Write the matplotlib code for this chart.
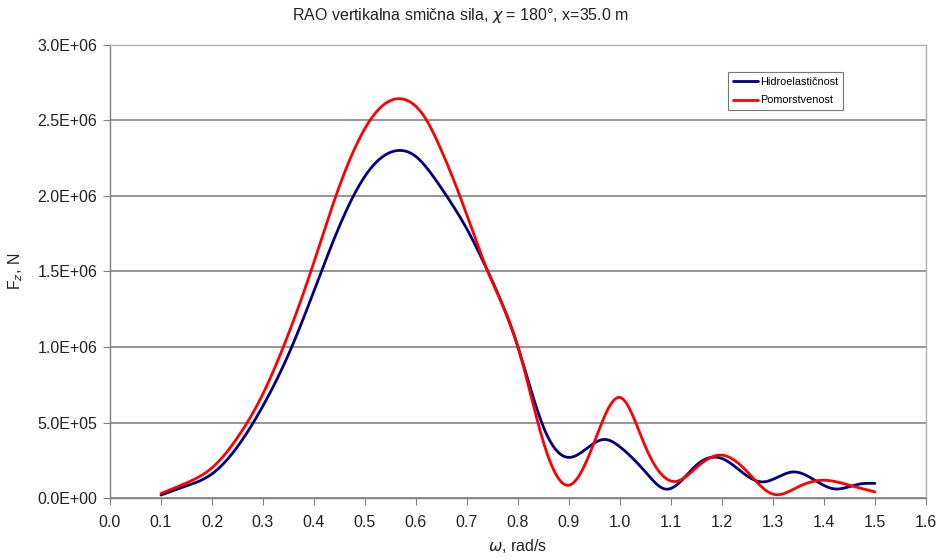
import numpy as np
import matplotlib
matplotlib.use("Agg")
import matplotlib.pyplot as plt
from matplotlib.ticker import FuncFormatter, MultipleLocator

plt.rcParams['font.family'] = ['Liberation Sans', 'DejaVu Sans']

# Hidroelasticnost (blue)
x_blue = [0.10, 0.15, 0.20, 0.25, 0.30, 0.35, 0.40, 0.45, 0.50, 0.565, 0.60, 0.627, 0.66,
          0.70, 0.741, 0.80, 0.85, 0.90, 0.97, 1.00, 1.05, 1.09, 1.15, 1.20, 1.25, 1.28,
          1.34, 1.42, 1.47, 1.50]
y_blue = [2.0e4, 8.0e4, 1.6e5, 3.4e5, 6.1e5, 9.5e5, 1.37e6, 1.80e6, 2.13e6, 2.30e6, 2.26e6,
          2.16e6, 2.00e6, 1.78e6, 1.50e6, 1.00e6, 4.7e5, 2.69e5, 3.88e5, 3.39e5, 1.73e5,
          5.9e4, 2.18e5, 2.62e5, 1.45e5, 1.07e5, 1.73e5, 6.1e4, 9.3e4, 9.7e4]

# Pomorstvenost (red)
x_red = [0.10, 0.15, 0.20, 0.25, 0.30, 0.34, 0.394, 0.44, 0.51, 0.575, 0.621, 0.65, 0.686,
         0.741, 0.80, 0.85, 0.90, 0.95, 1.00, 1.05, 1.11, 1.15, 1.20, 1.25, 1.30, 1.35,
         1.40, 1.45, 1.50]
y_red = [3.0e4, 1.0e5, 2.0e5, 4.0e5, 6.9e5, 1.0e6, 1.5e6, 1.97e6, 2.50e6, 2.64e6, 2.50e6,
         2.30e6, 2.00e6, 1.50e6, 1.00e6, 3.7e5, 8.5e4, 3.72e5, 6.66e5, 3.4e5, 1.1e5, 2.02e5,
         2.84e5, 1.73e5, 2.6e4, 7.5e4, 1.18e5, 8.5e4, 4.1e4]

labels = ["Hidroelastičnost", "Pomorstvenost"]
colors = ["#000080", "#FF0000"]


def smooth(x, y, n=400):
    """Natural cubic spline through the points (Excel-like smoothed line)."""
    x = np.asarray(x, float)
    y = np.asarray(y, float)
    N = len(x)
    h = np.diff(x)
    A = np.zeros((N, N))
    b = np.zeros(N)
    A[0, 0] = 1.0
    A[-1, -1] = 1.0
    for i in range(1, N - 1):
        A[i, i - 1] = h[i - 1]
        A[i, i] = 2 * (h[i - 1] + h[i])
        A[i, i + 1] = h[i]
        b[i] = 6 * ((y[i + 1] - y[i]) / h[i] - (y[i] - y[i - 1]) / h[i - 1])
    M = np.linalg.solve(A, b)
    xs = np.linspace(x[0], x[-1], n)
    idx = np.clip(np.searchsorted(x, xs) - 1, 0, N - 2)
    x0, x1 = x[idx], x[idx + 1]
    hh = x1 - x0
    a = (x1 - xs) / hh
    bb = (xs - x0) / hh
    ys = (a * y[idx] + bb * y[idx + 1]
          + ((a**3 - a) * M[idx] + (bb**3 - bb) * M[idx + 1]) * hh**2 / 6.0)
    return xs, ys


fig = plt.figure(figsize=(9.4, 5.59), dpi=100)
ax = fig.add_axes([0.117, 0.109, 0.868, 0.811])

for xv, yv, lab, c in [(x_blue, y_blue, labels[0], colors[0]), (x_red, y_red, labels[1], colors[1])]:
    sx, sy = smooth(xv, yv)
    ax.plot(sx, sy, color=c, lw=2.0, label=lab, solid_capstyle='round')

ax.set_xlim(0, 1.6)
ax.set_ylim(0, 3.0e6)
ax.xaxis.set_major_locator(MultipleLocator(0.1))
ax.yaxis.set_major_locator(MultipleLocator(5e5))
ax.xaxis.set_major_formatter(FuncFormatter(lambda v, p: f"{v:.1f}"))
ax.yaxis.set_major_formatter(FuncFormatter(lambda v, p: f"{v:.1E}"))

ax.grid(axis='y', color='#8c8c8c', lw=1.3)
ax.set_axisbelow(True)
for s in ['top', 'right']:
    ax.spines[s].set_color('#b0b0b0')
    ax.spines[s].set_linewidth(1.0)
for s in ['left', 'bottom']:
    ax.spines[s].set_color('#808080')
    ax.spines[s].set_linewidth(1.0)
ax.tick_params(axis='both', direction='out', length=5, color='#808080', labelsize=11.5,
               labelcolor='#222222', pad=4)
ax.tick_params(axis='x', pad=7)

fig.text(0.49, 0.972, "RAO vertikalna smična sila, $\\chi$ = 180°, x=35.0 m", fontsize=11.5,
         color='#222222', ha='center', va='center')
ax.set_xlabel("$\\omega$, rad/s", fontsize=11.5, color='#222222', labelpad=5)
ax.set_ylabel("F$_z$, N", fontsize=11.5, color='#222222', labelpad=9)

leg = ax.legend(loc='upper left', bbox_to_anchor=(0.758, 0.94), fontsize=7.8,
                frameon=True, fancybox=False, borderpad=0.45, handlelength=2.3,
                handletextpad=0.15, labelspacing=0.8, borderaxespad=0)
leg.get_frame().set_edgecolor('#555555')
leg.get_frame().set_linewidth(0.8)

fig.savefig("out.png", dpi=100)
